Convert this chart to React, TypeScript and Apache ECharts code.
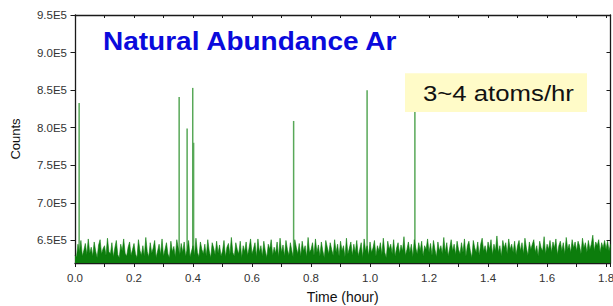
import React, { useEffect, useRef } from 'react';
import * as echarts from 'echarts';

// Background counts (in thousands of counts), one bin every 0.005 hour starting at 0
const noiseK = [
  630,628,645,634,650,629,637,646,631,652,633,641,629,648,636,627,644,651,632,639,
  643,630,653,635,632,647,628,640,650,631,627,645,636,652,633,629,641,648,630,638,
  646,632,627,651,637,630,643,629,654,635,628,647,633,640,650,627,636,645,631,652,
  629,638,647,632,627,649,635,642,628,651,640,630,646,634,648,629,637,650,628,636,
  643,630,653,634,628,648,638,632,645,629,651,636,627,647,640,631,649,633,644,629,
  636,650,628,641,646,631,654,634,629,647,638,632,649,627,643,635,648,630,640,652,
  632,639,647,628,652,634,643,629,649,636,627,645,638,651,630,641,633,648,628,653,
  634,644,629,650,638,630,647,636,627,651,641,632,646,629,649,636,643,628,654,634,
  638,647,630,652,634,644,629,648,636,627,650,641,632,647,638,630,651,634,645,629,
  649,636,643,628,653,632,640,648,630,645,634,650,629,638,647,627,652,636,643,630,
  648,634,640,650,629,643,636,647,631,653,634,627,649,638,645,632,651,629,640,647,
  632,644,636,655,630,638,648,634,645,628,651,640,632,647,636,649,629,643,638,652,
  634,646,630,650,638,628,648,636,643,632,654,634,647,629,640,651,636,645,631,649,
  638,632,647,634,652,629,643,649,636,627,650,640,634,648,630,645,653,636,643,632,
  648,638,651,631,645,636,656,634,643,629,650,640,647,632,652,638,645,634,649,631,
  643,650,636,647,632,653,640,630,648,638,645,651,634,643,629,649,640,636,655,632,
  645,638,650,634,648,640,652,631,643,649,636,647,632,654,638,645,634,651,640,648,
  636,649,643,632,653,640,647,634,650,638,645,657,636,648,643,651,634,647,640,650,
  638,649,636,645,
];
const NOISE_STEP_HOUR = 0.005;

// Single-atom detection events
const spikeTimes = [0.014, 0.353, 0.38, 0.399, 0.402, 0.741, 0.99, 1.152];
const spikeCounts = [833000, 841000, 799000, 853000, 780000, 809000, 850000, 821000];

const yTickValues = [650000, 700000, 750000, 800000, 850000, 900000, 950000];
const Y_MIN = 620000;
const Y_MAX = 950000;
const X_MIN = 0;
const X_MAX = 1.815;
const X_INTERVAL = 0.2;

const titleText = 'Natural Abundance Ar';
const rateText = '3~4 atoms/hr';
const xName = 'Time (hour)';
const yName = 'Counts';

const FONT = 'Liberation Sans, Arial, sans-serif';
const AXIS_COLOR = '#1a1a1a';

export default function App() {
  const ref = useRef<HTMLDivElement>(null);
  useEffect(() => {
    const chart = echarts.init(ref.current!, null, { renderer: 'svg' });
    const noiseData = noiseK.map((v, i) => [+(i * NOISE_STEP_HOUR).toFixed(3), v * 1000]);
    const spikeData = spikeTimes.map((t, i) => [t, spikeCounts[i]]);
    const yFmt = (v: number) => (v / 1e5).toFixed(1) + 'E5';

    const option: any = {
      animation: false,
      textStyle: { fontFamily: FONT },
      grid: { left: 75, right: 2.5, top: 15, bottom: 43, outerBoundsMode: 'none' },
      xAxis: [
        {
          type: 'value',
          min: X_MIN,
          max: X_MAX,
          interval: X_INTERVAL,
          name: xName,
          nameLocation: 'middle',
          nameGap: 27,
          nameTextStyle: { fontSize: 14, color: '#111', fontFamily: FONT },
          axisLine: { show: true, onZero: false, lineStyle: { color: AXIS_COLOR, width: 1.3 } },
          axisTick: { show: true, length: 4, lineStyle: { color: AXIS_COLOR, width: 1 } },
          minorTick: { show: true, splitNumber: 2, length: 4, lineStyle: { color: AXIS_COLOR, width: 1 } },
          axisLabel: {
            margin: 9,
            fontSize: 11.5,
            color: '#333',
            fontFamily: FONT,
            showMaxLabel: false,
            formatter: (v: number) => v.toFixed(1),
          },
          splitLine: { show: false },
        },
        {
          type: 'value',
          position: 'top',
          min: X_MIN,
          max: X_MAX,
          interval: X_INTERVAL,
          axisLine: { show: true, onZero: false, lineStyle: { color: AXIS_COLOR, width: 1.3 } },
          axisTick: { show: true, inside: true, length: 3, lineStyle: { color: AXIS_COLOR, width: 1 } },
          minorTick: { show: true, splitNumber: 2, length: 3, lineStyle: { color: AXIS_COLOR, width: 1 } },
          axisLabel: { show: false },
          splitLine: { show: false },
        },
      ],
      yAxis: [
        {
          type: 'value',
          min: Y_MIN,
          max: Y_MAX,
          name: yName,
          nameLocation: 'middle',
          nameGap: 53,
          nameTextStyle: { fontSize: 13, color: '#111', fontFamily: FONT },
          axisLine: { show: true, onZero: false, lineStyle: { color: AXIS_COLOR, width: 1.3 } },
          axisTick: { show: true, length: 4.5, customValues: yTickValues, lineStyle: { color: AXIS_COLOR, width: 1 } },
          axisLabel: {
            margin: 8,
            fontSize: 11.5,
            color: '#333',
            fontFamily: FONT,
            customValues: yTickValues,
            formatter: yFmt,
          },
          splitLine: { show: false },
        },
        {
          type: 'value',
          position: 'right',
          min: Y_MIN,
          max: Y_MAX,
          axisLine: { show: true, onZero: false, lineStyle: { color: AXIS_COLOR, width: 1.3 } },
          axisTick: { show: true, inside: true, length: 4, customValues: yTickValues, lineStyle: { color: AXIS_COLOR, width: 1 } },
          axisLabel: { show: false, customValues: yTickValues },
          splitLine: { show: false },
        },
      ],
      series: [
        {
          name: 'events',
          type: 'custom',
          z: 1,
          silent: true,
          data: spikeData,
          renderItem: (params: any, api: any) => {
            const top = api.coord([api.value(0), api.value(1)]);
            const bot = api.coord([api.value(0), Y_MIN]);
            return {
              type: 'line',
              shape: { x1: top[0], y1: top[1], x2: bot[0], y2: bot[1] },
              style: { stroke: '#58a858', lineWidth: 1.5 },
            };
          },
        },
        {
          name: 'background',
          type: 'line',
          z: 2,
          silent: true,
          showSymbol: false,
          symbol: 'none',
          data: noiseData,
          lineStyle: { color: '#0c7d0c', width: 0.6 },
          itemStyle: { color: '#0c7d0c' },
          areaStyle: { color: '#0c7d0c', opacity: 1, origin: 'start' },
        },
      ],
      graphic: [
        {
          type: 'text',
          x: 103,
          y: 41.7,
          scaleX: 1.12,
          z: 10,
          style: {
            text: titleText,
            font: `bold 25px ${FONT}`,
            fill: '#0a0adc',
            textVerticalAlign: 'middle',
          },
        },
        {
          type: 'rect',
          z: 9,
          shape: { x: 405, y: 73.3, width: 182, height: 38.7 },
          style: { fill: '#fffbc8' },
        },
        {
          type: 'text',
          x: 423,
          y: 92.9,
          scaleX: 1.17,
          z: 10,
          style: {
            text: rateText,
            font: `22px ${FONT}`,
            fill: '#111',
            textVerticalAlign: 'middle',
          },
        },
      ],
    };
    chart.setOption(option);
    return () => chart.dispose();
  }, []);
  return <div ref={ref} style={{ position: 'absolute', left: 0, top: 0, width: 613, height: 306 }} />;
}
